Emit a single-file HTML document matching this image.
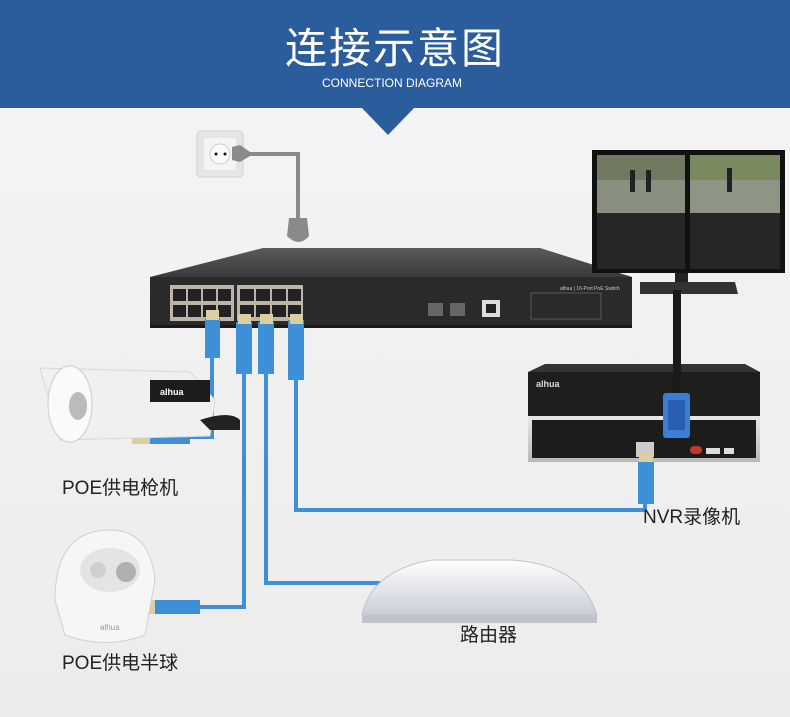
<!DOCTYPE html>
<html><head><meta charset="utf-8"><style>
html,body{margin:0;padding:0;width:790px;height:717px;overflow:hidden;background:#f3f3f3}
svg{display:block}
text{font-family:"Liberation Sans","Noto Sans CJK SC",sans-serif}
</style></head><body>
<svg width="790" height="717" viewBox="0 0 790 717" xmlns="http://www.w3.org/2000/svg">
<defs>
<linearGradient id="bg" x1="0" y1="0" x2="0" y2="1"><stop offset="0" stop-color="#f5f5f5"/><stop offset="1" stop-color="#ececec"/></linearGradient>
<linearGradient id="top" x1="0" y1="0" x2="0" y2="1"><stop offset="0" stop-color="#5a5a5a"/><stop offset="1" stop-color="#3a3a3a"/></linearGradient>
<linearGradient id="silver" x1="0" y1="0" x2="0" y2="1"><stop offset="0" stop-color="#e8e8e8"/><stop offset="1" stop-color="#b8b8b8"/></linearGradient>
<linearGradient id="router" x1="0" y1="0" x2="0" y2="1"><stop offset="0" stop-color="#ffffff"/><stop offset="1" stop-color="#c9ced6"/></linearGradient>
</defs>
<rect width="790" height="717" fill="url(#bg)"/>
<rect x="0" y="0" width="790" height="108" fill="#2b5c9c"/>
<polygon points="361,107 415,107 388,135" fill="#2b5c9c"/>
<text x="395" y="63" text-anchor="middle" font-size="42" fill="#fff" letter-spacing="2">连接示意图</text>
<text x="392" y="87" text-anchor="middle" font-size="12" fill="#fff">CONNECTION DIAGRAM</text>

<rect x="197" y="131" width="46" height="46" rx="4" fill="#e6e6e6" stroke="#d0d0d0"/>
<rect x="203" y="137" width="34" height="34" rx="3" fill="#f4f4f4" stroke="#ddd"/>
<circle cx="220" cy="154" r="10" fill="#fafafa" stroke="#ccc"/>
<circle cx="216" cy="154" r="1.5" fill="#111"/><circle cx="225" cy="154" r="1.5" fill="#111"/>
<polygon points="232,147 240,145 250,152 250,156 240,162 232,160" fill="#8a8a8a"/>
<polyline points="250,154 298,154 298,220" fill="none" stroke="#8a8a8a" stroke-width="4"/>
<path d="M289,218 h18 l2,18 q-10,12 -22,0 z" fill="#8a8a8a"/>

<polygon points="150,277 263,248 540,248 632,277" fill="url(#top)"/>
<rect x="150" y="277" width="482" height="50" fill="#2a2a2a"/>
<rect x="150" y="325" width="482" height="3" fill="#1a1a1a"/>
<g fill="#bdb6a8">
<rect x="170" y="285" width="64" height="36"/><rect x="237" y="285" width="66" height="36"/>
</g>
<g fill="#222">
<rect x="173" y="289" width="13" height="12"/><rect x="188" y="289" width="13" height="12"/><rect x="203" y="289" width="13" height="12"/><rect x="218" y="289" width="13" height="12"/>
<rect x="173" y="305" width="13" height="12"/><rect x="188" y="305" width="13" height="12"/><rect x="203" y="305" width="13" height="12"/><rect x="218" y="305" width="13" height="12"/>
<rect x="240" y="289" width="14" height="12"/><rect x="256" y="289" width="14" height="12"/><rect x="272" y="289" width="14" height="12"/><rect x="288" y="289" width="13" height="12"/>
<rect x="240" y="305" width="14" height="12"/><rect x="256" y="305" width="14" height="12"/><rect x="272" y="305" width="14" height="12"/><rect x="288" y="305" width="13" height="12"/>
</g>
<rect x="428" y="303" width="15" height="13" fill="#666"/><rect x="450" y="303" width="15" height="13" fill="#666"/>
<rect x="482" y="300" width="18" height="17" fill="#ddd"/><rect x="486" y="304" width="10" height="9" fill="#222"/>
<rect x="531" y="293" width="70" height="26" fill="none" stroke="#666" stroke-width="0.8"/>
<text x="560" y="290" font-size="5" fill="#ccc">alhua | 16-Port PoE Switch</text>

<rect x="592" y="150" width="193" height="123" fill="#111"/>
<rect x="597" y="155" width="88" height="58" fill="#8a9080"/><rect x="690" y="155" width="90" height="58" fill="#8e9584"/>
<rect x="597" y="155" width="88" height="25" fill="#6f7a60"/><rect x="690" y="155" width="90" height="25" fill="#7a8a60"/>
<rect x="597" y="213" width="88" height="56" fill="#262626"/><rect x="690" y="213" width="90" height="56" fill="#262626"/>
<rect x="630" y="170" width="5" height="22" fill="#222"/><rect x="646" y="170" width="5" height="22" fill="#222"/><rect x="727" y="168" width="5" height="24" fill="#222"/>
<rect x="675" y="273" width="13" height="10" fill="#222"/>
<polygon points="640,282 735,282 738,294 640,294" fill="#333"/>

<rect x="528" y="372" width="232" height="44" fill="#1e1e1e"/>
<polygon points="528,372 545,364 745,364 760,372" fill="#333"/>
<text x="536" y="387" font-size="9" fill="#ddd" font-weight="bold">alhua</text>
<rect x="528" y="416" width="232" height="46" fill="url(#silver)"/>
<rect x="532" y="420" width="224" height="38" fill="#1c1c1c"/>
<rect x="636" y="442" width="18" height="15" fill="#ccc"/>
<rect x="690" y="446" width="12" height="8" fill="#c0392b" rx="4"/>
<rect x="706" y="448" width="14" height="6" fill="#ddd"/><rect x="724" y="448" width="10" height="6" fill="#ddd"/>

<!-- VGA cable (on top) -->
<rect x="673" y="290" width="8" height="105" fill="#1a1a1a"/>
<rect x="663" y="393" width="27" height="45" rx="3" fill="#3a7ed8"/>
<rect x="668" y="400" width="17" height="30" fill="#2a5fb0"/>

<g fill="none" stroke="#3d8fd8" stroke-width="4">
<polyline points="212,325 212,437 185,437"/>
<polyline points="244,330 244,607 200,607"/>
<polyline points="266,330 266,583 380,583"/>
<polyline points="296,340 296,510 645,510 645,480"/>
</g>
<g fill="#3d8fd8">
<rect x="205" y="318" width="15" height="40"/><rect x="236" y="322" width="16" height="52"/><rect x="258" y="322" width="16" height="52"/><rect x="288" y="320" width="16" height="60"/>
<rect x="150" y="432" width="40" height="12"/><rect x="155" y="600" width="45" height="14"/><rect x="638" y="462" width="16" height="42"/>
</g>
<g fill="#d9cfa0"><rect x="206" y="310" width="13" height="10"/><rect x="238" y="314" width="13" height="10"/><rect x="260" y="314" width="13" height="10"/><rect x="290" y="314" width="13" height="10"/><rect x="132" y="432" width="18" height="12"/><rect x="140" y="600" width="15" height="14"/><rect x="639" y="452" width="14" height="10"/></g>

<polygon points="40,368 190,372 215,400 210,436 60,440" fill="#f0f0f0" stroke="#d8d8d8"/>
<ellipse cx="70" cy="404" rx="22" ry="38" fill="#fafafa" stroke="#ccc"/>
<ellipse cx="78" cy="406" rx="9" ry="14" fill="#bbb"/>
<rect x="150" y="380" width="60" height="22" fill="#1c1c1c"/>
<text x="160" y="395" font-size="9" fill="#fff" font-weight="bold">alhua</text>
<path d="M200,420 q30,-10 40,0 v10 h-30 z" fill="#222"/>
<text x="62" y="494" font-size="19" fill="#222">POE供电枪机</text>

<path d="M55,600 q0,-70 55,-70 q40,0 45,50 l-10,55 q-40,15 -80,0 z" fill="#f6f6f6" stroke="#d0d0d0"/>
<ellipse cx="110" cy="570" rx="30" ry="22" fill="#e4e4e4"/>
<circle cx="98" cy="570" r="8" fill="#cfcfcf"/><circle cx="126" cy="572" r="10" fill="#b0b0b0"/>
<text x="100" y="630" font-size="8" fill="#999">alhua</text>
<text x="62" y="669" font-size="19" fill="#222">POE供电半球</text>

<path d="M362,615 q10,-45 70,-55 h80 q70,5 85,55 z" fill="url(#router)" stroke="#c0c4cc"/>
<path d="M362,615 h235 v8 h-235 z" fill="#bfc4cc"/>
<text x="460" y="641" font-size="19" fill="#222">路由器</text>

<text x="643" y="523" font-size="19" fill="#222">NVR录像机</text>
</svg>
</body></html>
